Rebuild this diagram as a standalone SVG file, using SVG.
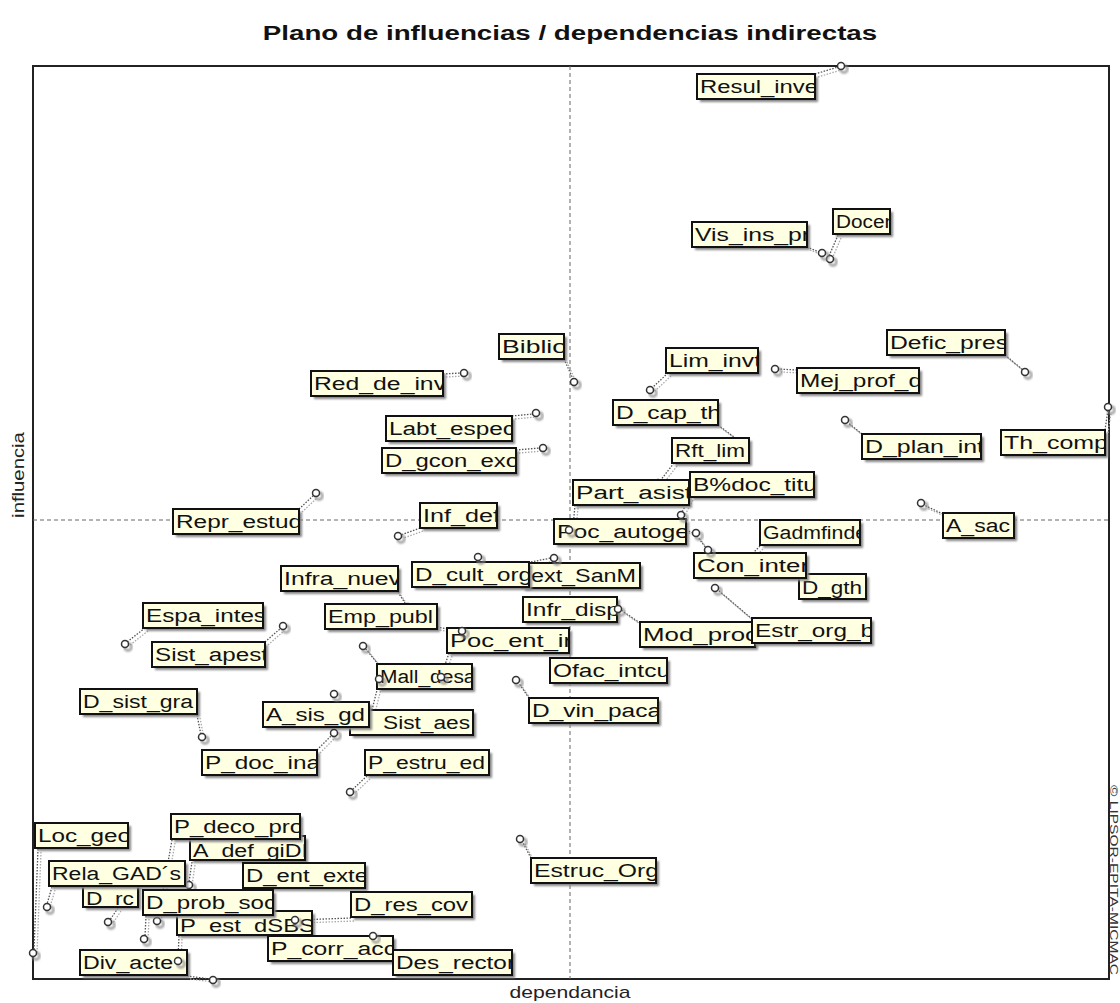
<svg xmlns="http://www.w3.org/2000/svg" width="1120" height="1003" viewBox="0 0 1120 1003">
<defs>
<filter id="soft" x="-20%" y="-40%" width="140%" height="180%"><feGaussianBlur stdDeviation="1.2"/></filter>
<style>
.title{font-family:"Liberation Sans",Arial,sans-serif;font-weight:bold;font-size:21px;fill:#111}
.axis{font-family:"Liberation Sans",Arial,sans-serif;font-size:16px;fill:#222}
.copy{font-family:"Liberation Sans",Arial,sans-serif;font-size:10px;fill:#333}
.frame{fill:none;stroke:#222;stroke-width:2}
.grid{stroke:#666;stroke-width:1;stroke-dasharray:4 3}
.sh{fill:#858585;filter:url(#soft)}
.bx{fill:#ffffe1;stroke:#111;stroke-width:2}
.lb{font-family:"Liberation Sans",Arial,sans-serif;font-size:18px;fill:#111}
.pt{fill:#fff;stroke:#333;stroke-width:1.5}
.ps{fill:none;stroke:#888;stroke-width:2;filter:url(#soft)}
.cn{stroke:#555;stroke-width:1.3;stroke-dasharray:1.5 1.5;fill:none}
.cs{stroke:#aaa;stroke-width:1.3;stroke-dasharray:1.5 1.5;fill:none}
circle.pt,circle.ps{r:3.5}
</style>
</defs>
<rect width="1120" height="1003" fill="#fff"/>

<!-- title and axis captions -->
<text class="title" text-anchor="middle" transform="translate(570,40) scale(1.32,1)">Plano de influencias / dependencias indirectas</text>
<text class="axis" text-anchor="middle" transform="translate(570,998) scale(1.32,1)">dependancia</text>
<text class="axis" text-anchor="middle" transform="translate(24,475) rotate(-90) scale(1.27,1)">influencia</text>
<text class="copy" x="785" y="-1110" transform="rotate(90)" textLength="190" lengthAdjust="spacingAndGlyphs">© LIPSOR-EPITA-MICMAC</text>

<!-- plot frame and axes of the quadrants -->
<rect class="frame" x="33" y="66" width="1076" height="913"/>
<line class="grid" x1="570" y1="66" x2="570" y2="979"/>
<line class="grid" x1="33" y1="520" x2="1109" y2="520"/>

<!-- leader lines from labels to their points -->
<g id="connectors">
<g transform="translate(3,3)" class="cs">
<path d="M815 74L838 67M838 235L829 256M807 247L819 252M564 359L573 379M443 374L461 373M512 416L533 414M516 450L540 448M668 373L652 388M797 370L778 369M1005 355L1023 370M718 425L738 440M862 434L847 422M1105 430L1108 410M674 463L660 481M690 497L682 512M575 505L573 527M943 514L924 505M299 509L314 495M420 528L401 535M686 530L693 533M697 536L706 548M760 546L754 552M752 619L718 590M640 623L621 610M531 562L551 558M398 592L405 603M437 627L459 631M449 653L442 674M378 664L365 648M529 698L518 682M372 710L379 682M317 750L332 735M367 776L352 790M145 628L127 642M265 642L281 628M197 715L201 735M531 858L522 841M38 849L34 950M172 840L158 918M192 862L189 882M52 887L47 904M118 908L110 920M146 916L145 936M179 936L178 958M351 918L298 920M187 976L210 979"/>
</g>
<line class="cn" x1="815" y1="74" x2="838" y2="67"/>
<line class="cn" x1="838" y1="235" x2="829" y2="256"/>
<line class="cn" x1="807" y1="247" x2="819" y2="252"/>
<line class="cn" x1="564" y1="359" x2="573" y2="379"/>
<line class="cn" x1="443" y1="374" x2="461" y2="373"/>
<line class="cn" x1="512" y1="416" x2="533" y2="414"/>
<line class="cn" x1="516" y1="450" x2="540" y2="448"/>
<line class="cn" x1="668" y1="373" x2="652" y2="388"/>
<line class="cn" x1="797" y1="370" x2="778" y2="369"/>
<line class="cn" x1="1005" y1="355" x2="1023" y2="370"/>
<line class="cn" x1="718" y1="425" x2="738" y2="440"/>
<line class="cn" x1="862" y1="434" x2="847" y2="422"/>
<line class="cn" x1="1105" y1="430" x2="1108" y2="410"/>
<line class="cn" x1="674" y1="463" x2="660" y2="481"/>
<line class="cn" x1="690" y1="497" x2="682" y2="512"/>
<line class="cn" x1="575" y1="505" x2="573" y2="527"/>
<line class="cn" x1="943" y1="514" x2="924" y2="505"/>
<line class="cn" x1="299" y1="509" x2="314" y2="495"/>
<line class="cn" x1="420" y1="528" x2="401" y2="535"/>
<line class="cn" x1="686" y1="530" x2="693" y2="533"/>
<line class="cn" x1="697" y1="536" x2="706" y2="548"/>
<line class="cn" x1="760" y1="546" x2="754" y2="552"/>
<line class="cn" x1="752" y1="619" x2="718" y2="590"/>
<line class="cn" x1="640" y1="623" x2="621" y2="610"/>
<line class="cn" x1="531" y1="562" x2="551" y2="558"/>
<line class="cn" x1="398" y1="592" x2="405" y2="603"/>
<line class="cn" x1="437" y1="627" x2="459" y2="631"/>
<line class="cn" x1="449" y1="653" x2="442" y2="674"/>
<line class="cn" x1="378" y1="664" x2="365" y2="648"/>
<line class="cn" x1="529" y1="698" x2="518" y2="682"/>
<line class="cn" x1="372" y1="710" x2="379" y2="682"/>
<line class="cn" x1="317" y1="750" x2="332" y2="735"/>
<line class="cn" x1="367" y1="776" x2="352" y2="790"/>
<line class="cn" x1="145" y1="628" x2="127" y2="642"/>
<line class="cn" x1="265" y1="642" x2="281" y2="628"/>
<line class="cn" x1="197" y1="715" x2="201" y2="735"/>
<line class="cn" x1="531" y1="858" x2="522" y2="841"/>
<line class="cn" x1="38" y1="849" x2="34" y2="950"/>
<line class="cn" x1="172" y1="840" x2="158" y2="918"/>
<line class="cn" x1="192" y1="862" x2="189" y2="882"/>
<line class="cn" x1="52" y1="887" x2="47" y2="904"/>
<line class="cn" x1="118" y1="908" x2="110" y2="920"/>
<line class="cn" x1="146" y1="916" x2="145" y2="936"/>
<line class="cn" x1="179" y1="936" x2="178" y2="958"/>
<line class="cn" x1="351" y1="918" x2="298" y2="920"/>
<line class="cn" x1="187" y1="976" x2="210" y2="979"/>
</g>

<!-- variables: label box + plotted point -->
<g id="n-resul-inve"><rect class="sh" x="700" y="77" width="118" height="25"/><rect class="bx" x="697" y="74" width="118" height="25"/><svg x="697" y="74" width="118" height="25"><text class="lb" x="3" y="19" textLength="118" lengthAdjust="spacingAndGlyphs">Resul_inve</text></svg><circle class="ps" cx="844" cy="69"/><circle class="pt" cx="841" cy="66"/></g>
<g id="n-docen"><rect class="sh" x="836" y="212" width="57" height="25"/><rect class="bx" x="833" y="209" width="57" height="25"/><svg x="833" y="209" width="57" height="25"><text class="lb" x="3" y="19" textLength="60" lengthAdjust="spacingAndGlyphs">Docen</text></svg><circle class="ps" cx="833" cy="262"/><circle class="pt" cx="830" cy="259"/></g>
<g id="n-vis-ins-pr"><rect class="sh" x="695" y="225" width="115" height="25"/><rect class="bx" x="692" y="222" width="115" height="25"/><svg x="692" y="222" width="115" height="25"><text class="lb" x="3" y="19" textLength="115" lengthAdjust="spacingAndGlyphs">Vis_ins_pr</text></svg><circle class="ps" cx="825" cy="256"/><circle class="pt" cx="822" cy="253"/></g>
<g id="n-biblio"><rect class="sh" x="502" y="337" width="65" height="25"/><rect class="bx" x="499" y="334" width="65" height="25"/><svg x="499" y="334" width="65" height="25"><text class="lb" x="3" y="19" textLength="65" lengthAdjust="spacingAndGlyphs">Biblio</text></svg><circle class="ps" cx="577" cy="385"/><circle class="pt" cx="574" cy="382"/></g>
<g id="n-red-de-inv"><rect class="sh" x="314" y="374" width="132" height="25"/><rect class="bx" x="311" y="371" width="132" height="25"/><svg x="311" y="371" width="132" height="25"><text class="lb" x="3" y="19" textLength="132" lengthAdjust="spacingAndGlyphs">Red_de_inv</text></svg><circle class="ps" cx="467" cy="376"/><circle class="pt" cx="464" cy="373"/></g>
<g id="n-labt-espec"><rect class="sh" x="389" y="419" width="126" height="25"/><rect class="bx" x="386" y="416" width="126" height="25"/><svg x="386" y="416" width="126" height="25"><text class="lb" x="3" y="19" textLength="126" lengthAdjust="spacingAndGlyphs">Labt_espec</text></svg><circle class="ps" cx="539" cy="416"/><circle class="pt" cx="536" cy="413"/></g>
<g id="n-d-gcon-exo"><rect class="sh" x="385" y="451" width="134" height="25"/><rect class="bx" x="382" y="448" width="134" height="25"/><svg x="382" y="448" width="134" height="25"><text class="lb" x="3" y="19" textLength="134" lengthAdjust="spacingAndGlyphs">D_gcon_exo</text></svg><circle class="ps" cx="546" cy="451"/><circle class="pt" cx="543" cy="448"/></g>
<g id="n-defic-pres"><rect class="sh" x="890" y="333" width="118" height="25"/><rect class="bx" x="887" y="330" width="118" height="25"/><svg x="887" y="330" width="118" height="25"><text class="lb" x="3" y="19" textLength="118" lengthAdjust="spacingAndGlyphs">Defic_pres</text></svg><circle class="ps" cx="1028" cy="375"/><circle class="pt" cx="1025" cy="372"/></g>
<g id="n-mej-prof-d"><rect class="sh" x="800" y="371" width="122" height="25"/><rect class="bx" x="797" y="368" width="122" height="25"/><svg x="797" y="368" width="122" height="25"><text class="lb" x="3" y="19" textLength="122" lengthAdjust="spacingAndGlyphs">Mej_prof_d</text></svg><circle class="ps" cx="778" cy="372"/><circle class="pt" cx="775" cy="369"/></g>
<g id="n-lim-invt"><rect class="sh" x="669" y="351" width="92" height="25"/><rect class="bx" x="666" y="348" width="92" height="25"/><svg x="666" y="348" width="92" height="25"><text class="lb" x="3" y="19" textLength="92" lengthAdjust="spacingAndGlyphs">Lim_invt</text></svg><circle class="ps" cx="653" cy="393"/><circle class="pt" cx="650" cy="390"/></g>
<g id="n-d-cap-th"><rect class="sh" x="616" y="403" width="105" height="25"/><rect class="bx" x="613" y="400" width="105" height="25"/><svg x="613" y="400" width="105" height="25"><text class="lb" x="3" y="19" textLength="105" lengthAdjust="spacingAndGlyphs">D_cap_th</text></svg><circle class="pt" cx="740" cy="442"/></g>
<g id="n-rft-lim"><rect class="sh" x="675" y="441" width="77" height="25"/><rect class="bx" x="672" y="438" width="77" height="25"/><svg x="672" y="438" width="77" height="25"><text class="lb" x="3" y="19" textLength="70" lengthAdjust="spacingAndGlyphs">Rft_lim</text></svg><circle class="ps" cx="661" cy="486"/><circle class="pt" cx="658" cy="483"/></g>
<g id="n-d-plan-int"><rect class="sh" x="865" y="437" width="119" height="25"/><rect class="bx" x="862" y="434" width="119" height="25"/><svg x="862" y="434" width="119" height="25"><text class="lb" x="3" y="19" textLength="119" lengthAdjust="spacingAndGlyphs">D_plan_int</text></svg><circle class="ps" cx="848" cy="423"/><circle class="pt" cx="845" cy="420"/></g>
<g id="n-th-comp"><rect class="sh" x="1004" y="433" width="104" height="25"/><rect class="bx" x="1001" y="430" width="104" height="25"/><svg x="1001" y="430" width="104" height="25"><text class="lb" x="3" y="19" textLength="104" lengthAdjust="spacingAndGlyphs">Th_comp</text></svg><circle class="ps" cx="1111" cy="410"/><circle class="pt" cx="1108" cy="407"/></g>
<g id="n-poc-autoge"><rect class="sh" x="557" y="522" width="132" height="25"/><rect class="bx" x="554" y="519" width="132" height="25"/><svg x="554" y="519" width="132" height="25"><text class="lb" x="3" y="19" textLength="132" lengthAdjust="spacingAndGlyphs">Poc_autoge</text></svg><circle class="ps" cx="699" cy="536"/><circle class="pt" cx="696" cy="533"/></g>
<g id="n-part-asist"><rect class="sh" x="576" y="483" width="116" height="25"/><rect class="bx" x="573" y="480" width="116" height="25"/><svg x="573" y="480" width="116" height="25"><text class="lb" x="3" y="19" textLength="116" lengthAdjust="spacingAndGlyphs">Part_asist</text></svg><circle class="ps" cx="572" cy="533"/><circle class="pt" cx="569" cy="530"/></g>
<g id="n-b-doc-titu"><rect class="sh" x="693" y="475" width="124" height="25"/><rect class="bx" x="690" y="472" width="124" height="25"/><svg x="690" y="472" width="124" height="25"><text class="lb" x="3" y="19" textLength="124" lengthAdjust="spacingAndGlyphs">B%doc_titu</text></svg><circle class="ps" cx="684" cy="518"/><circle class="pt" cx="681" cy="515"/></g>
<g id="n-a-sac"><rect class="sh" x="946" y="516" width="71" height="25"/><rect class="bx" x="943" y="513" width="71" height="25"/><svg x="943" y="513" width="71" height="25"><text class="lb" x="3" y="19" textLength="64" lengthAdjust="spacingAndGlyphs">A_sac</text></svg><circle class="ps" cx="924" cy="506"/><circle class="pt" cx="921" cy="503"/></g>
<g id="n-repr-estud"><rect class="sh" x="176" y="512" width="126" height="25"/><rect class="bx" x="173" y="509" width="126" height="25"/><svg x="173" y="509" width="126" height="25"><text class="lb" x="3" y="19" textLength="126" lengthAdjust="spacingAndGlyphs">Repr_estud</text></svg><circle class="ps" cx="319" cy="496"/><circle class="pt" cx="316" cy="493"/></g>
<g id="n-inf-def"><rect class="sh" x="423" y="506" width="77" height="25"/><rect class="bx" x="420" y="503" width="77" height="25"/><svg x="420" y="503" width="77" height="25"><text class="lb" x="3" y="19" textLength="77" lengthAdjust="spacingAndGlyphs">Inf_def</text></svg><circle class="ps" cx="401" cy="539"/><circle class="pt" cx="398" cy="536"/></g>
<g id="n-gadmfindef"><rect class="sh" x="763" y="523" width="100" height="25"/><rect class="bx" x="760" y="520" width="100" height="25"/><svg x="760" y="520" width="100" height="25"><text class="lb" x="3" y="19" textLength="110" lengthAdjust="spacingAndGlyphs">Gadmfindef</text></svg></g>
<g id="n-d-gth"><rect class="sh" x="802" y="577" width="67" height="25"/><rect class="bx" x="799" y="574" width="67" height="25"/><svg x="799" y="574" width="67" height="25"><text class="lb" x="3" y="20" textLength="60" lengthAdjust="spacingAndGlyphs">D_gth</text></svg></g>
<g id="n-con-inter"><rect class="sh" x="697" y="556" width="112" height="25"/><rect class="bx" x="694" y="553" width="112" height="25"/><svg x="694" y="553" width="112" height="25"><text class="lb" x="3" y="19" textLength="112" lengthAdjust="spacingAndGlyphs">Con_inter</text></svg><circle class="ps" cx="711" cy="553"/><circle class="pt" cx="708" cy="550"/></g>
<g id="n-infr-disp"><rect class="sh" x="526" y="600" width="94" height="25"/><rect class="bx" x="523" y="597" width="94" height="25"/><svg x="523" y="597" width="94" height="25"><text class="lb" x="3" y="19" textLength="94" lengthAdjust="spacingAndGlyphs">Infr_disp</text></svg></g>
<g id="n-mod-proc"><rect class="sh" x="643" y="625" width="115" height="25"/><rect class="bx" x="640" y="622" width="115" height="25"/><svg x="640" y="622" width="115" height="25"><text class="lb" x="3" y="19" textLength="115" lengthAdjust="spacingAndGlyphs">Mod_proc</text></svg><circle class="ps" cx="621" cy="612"/><circle class="pt" cx="618" cy="609"/></g>
<g id="n-estr-org-b"><rect class="sh" x="755" y="621" width="119" height="25"/><rect class="bx" x="752" y="618" width="119" height="25"/><svg x="752" y="618" width="119" height="25"><text class="lb" x="3" y="19" textLength="119" lengthAdjust="spacingAndGlyphs">Estr_org_b</text></svg><circle class="ps" cx="718" cy="591"/><circle class="pt" cx="715" cy="588"/></g>
<g id="n-ext-sanm"><rect class="sh" x="525" y="566" width="118" height="25"/><rect class="bx" x="522" y="563" width="118" height="25"/><svg x="522" y="563" width="118" height="25"><text class="lb" x="9" y="19" textLength="105" lengthAdjust="spacingAndGlyphs">ext_SanM</text></svg><circle class="ps" cx="557" cy="561"/><circle class="pt" cx="554" cy="558"/></g>
<g id="n-d-cult-org"><rect class="sh" x="415" y="565" width="117" height="25"/><rect class="bx" x="412" y="562" width="117" height="25"/><svg x="412" y="562" width="117" height="25"><text class="lb" x="3" y="19" textLength="117" lengthAdjust="spacingAndGlyphs">D_cult_org</text></svg><circle class="ps" cx="481" cy="560"/><circle class="pt" cx="478" cy="557"/></g>
<g id="n-infra-nuev"><rect class="sh" x="284" y="569" width="117" height="25"/><rect class="bx" x="281" y="566" width="117" height="25"/><svg x="281" y="566" width="117" height="25"><text class="lb" x="3" y="19" textLength="117" lengthAdjust="spacingAndGlyphs">Infra_nuev</text></svg><circle class="pt" cx="408" cy="607"/></g>
<g id="n-mall-desac"><rect class="sh" x="380" y="667" width="95" height="25"/><rect class="bx" x="377" y="664" width="95" height="25"/><svg x="377" y="664" width="95" height="25"><text class="lb" x="3" y="19" textLength="106" lengthAdjust="spacingAndGlyphs">Mall_desac</text></svg><circle class="ps" cx="366" cy="649"/><circle class="pt" cx="363" cy="646"/></g>
<g id="n-poc-ent-ir"><rect class="sh" x="450" y="631" width="122" height="25"/><rect class="bx" x="447" y="628" width="122" height="25"/><svg x="447" y="628" width="122" height="25"><text class="lb" x="3" y="19" textLength="122" lengthAdjust="spacingAndGlyphs">Poc_ent_ir</text></svg><circle class="ps" cx="444" cy="680"/><circle class="pt" cx="441" cy="677"/></g>
<g id="n-emp-publ"><rect class="sh" x="328" y="607" width="112" height="25"/><rect class="bx" x="325" y="604" width="112" height="25"/><svg x="325" y="604" width="112" height="25"><text class="lb" x="3" y="19" textLength="105" lengthAdjust="spacingAndGlyphs">Emp_publ</text></svg><circle class="ps" cx="465" cy="634"/><circle class="pt" cx="462" cy="631"/></g>
<g id="n-ofac-intcu"><rect class="sh" x="553" y="661" width="117" height="25"/><rect class="bx" x="550" y="658" width="117" height="25"/><svg x="550" y="658" width="117" height="25"><text class="lb" x="3" y="19" textLength="117" lengthAdjust="spacingAndGlyphs">Ofac_intcu</text></svg></g>
<g id="n-d-vin-paca"><rect class="sh" x="532" y="701" width="129" height="25"/><rect class="bx" x="529" y="698" width="129" height="25"/><svg x="529" y="698" width="129" height="25"><text class="lb" x="3" y="19" textLength="129" lengthAdjust="spacingAndGlyphs">D_vin_paca</text></svg><circle class="ps" cx="519" cy="683"/><circle class="pt" cx="516" cy="680"/></g>
<g id="n-sist-aes"><rect class="sh" x="353" y="713" width="123" height="25"/><rect class="bx" x="350" y="710" width="123" height="25"/><svg x="350" y="710" width="123" height="25"><text class="lb" x="33" y="19" textLength="87" lengthAdjust="spacingAndGlyphs">Sist_aes</text></svg><circle class="ps" cx="382" cy="682"/><circle class="pt" cx="379" cy="679"/></g>
<g id="n-a-sis-gd"><rect class="sh" x="266" y="705" width="106" height="25"/><rect class="bx" x="263" y="702" width="106" height="25"/><svg x="263" y="702" width="106" height="25"><text class="lb" x="3" y="19" textLength="99" lengthAdjust="spacingAndGlyphs">A_sis_gd</text></svg><circle class="ps" cx="337" cy="697"/><circle class="pt" cx="334" cy="694"/></g>
<g id="n-p-doc-ina"><rect class="sh" x="205" y="753" width="115" height="25"/><rect class="bx" x="202" y="750" width="115" height="25"/><svg x="202" y="750" width="115" height="25"><text class="lb" x="3" y="19" textLength="115" lengthAdjust="spacingAndGlyphs">P_doc_ina</text></svg><circle class="ps" cx="337" cy="736"/><circle class="pt" cx="334" cy="733"/></g>
<g id="n-p-estru-ed"><rect class="sh" x="368" y="753" width="124" height="25"/><rect class="bx" x="365" y="750" width="124" height="25"/><svg x="365" y="750" width="124" height="25"><text class="lb" x="3" y="19" textLength="117" lengthAdjust="spacingAndGlyphs">P_estru_ed</text></svg><circle class="ps" cx="353" cy="795"/><circle class="pt" cx="350" cy="792"/></g>
<g id="n-espa-intes"><rect class="sh" x="146" y="606" width="120" height="25"/><rect class="bx" x="143" y="603" width="120" height="25"/><svg x="143" y="603" width="120" height="25"><text class="lb" x="3" y="19" textLength="120" lengthAdjust="spacingAndGlyphs">Espa_intes</text></svg><circle class="ps" cx="128" cy="647"/><circle class="pt" cx="125" cy="644"/></g>
<g id="n-sist-apest"><rect class="sh" x="155" y="645" width="113" height="25"/><rect class="bx" x="152" y="642" width="113" height="25"/><svg x="152" y="642" width="113" height="25"><text class="lb" x="3" y="19" textLength="113" lengthAdjust="spacingAndGlyphs">Sist_apest</text></svg><circle class="ps" cx="286" cy="629"/><circle class="pt" cx="283" cy="626"/></g>
<g id="n-d-sist-gra"><rect class="sh" x="83" y="692" width="117" height="25"/><rect class="bx" x="80" y="689" width="117" height="25"/><svg x="80" y="689" width="117" height="25"><text class="lb" x="3" y="19" textLength="110" lengthAdjust="spacingAndGlyphs">D_sist_gra</text></svg><circle class="ps" cx="205" cy="740"/><circle class="pt" cx="202" cy="737"/></g>
<g id="n-estruc-org"><rect class="sh" x="534" y="861" width="125" height="25"/><rect class="bx" x="531" y="858" width="125" height="25"/><svg x="531" y="858" width="125" height="25"><text class="lb" x="3" y="19" textLength="125" lengthAdjust="spacingAndGlyphs">Estruc_Org</text></svg><circle class="ps" cx="523" cy="842"/><circle class="pt" cx="520" cy="839"/></g>
<g id="n-loc-geo"><rect class="sh" x="38" y="826" width="93" height="25"/><rect class="bx" x="35" y="823" width="93" height="25"/><svg x="35" y="823" width="93" height="25"><text class="lb" x="3" y="19" textLength="93" lengthAdjust="spacingAndGlyphs">Loc_geo</text></svg><circle class="ps" cx="36" cy="956"/><circle class="pt" cx="33" cy="953"/></g>
<g id="n-a-def-gid"><rect class="sh" x="193" y="839" width="115" height="24"/><rect class="bx" x="190" y="836" width="115" height="24"/><svg x="190" y="836" width="115" height="24"><text class="lb" x="3" y="21" textLength="115" lengthAdjust="spacingAndGlyphs">A_def_giDI</text></svg><circle class="ps" cx="192" cy="888"/><circle class="pt" cx="189" cy="885"/></g>
<g id="n-d-ent-exte"><rect class="sh" x="246" y="866" width="122" height="25"/><rect class="bx" x="243" y="863" width="122" height="25"/><svg x="243" y="863" width="122" height="25"><text class="lb" x="3" y="19" textLength="122" lengthAdjust="spacingAndGlyphs">D_ent_exte</text></svg></g>
<g id="n-p-deco-pro"><rect class="sh" x="174" y="817" width="129" height="25"/><rect class="bx" x="171" y="814" width="129" height="25"/><svg x="171" y="814" width="129" height="25"><text class="lb" x="3" y="19" textLength="129" lengthAdjust="spacingAndGlyphs">P_deco_pro</text></svg><circle class="ps" cx="160" cy="924"/><circle class="pt" cx="157" cy="921"/></g>
<g id="n-d-rc"><rect class="sh" x="86" y="887" width="55" height="23"/><rect class="bx" x="83" y="884" width="55" height="23"/><svg x="83" y="884" width="55" height="23"><text class="lb" x="3" y="21" textLength="48" lengthAdjust="spacingAndGlyphs">D_rc</text></svg><circle class="ps" cx="111" cy="925"/><circle class="pt" cx="108" cy="922"/></g>
<g id="n-rela-gads"><rect class="sh" x="52" y="864" width="136" height="25"/><rect class="bx" x="49" y="861" width="136" height="25"/><svg x="49" y="861" width="136" height="25"><text class="lb" x="3" y="19" textLength="129" lengthAdjust="spacingAndGlyphs">Rela_GAD&#180;s</text></svg><circle class="ps" cx="50" cy="910"/><circle class="pt" cx="47" cy="907"/></g>
<g id="n-div-acte"><rect class="sh" x="83" y="953" width="107" height="25"/><rect class="bx" x="80" y="950" width="107" height="25"/><svg x="80" y="950" width="107" height="25"><text class="lb" x="3" y="19" textLength="90" lengthAdjust="spacingAndGlyphs">Div_acte</text></svg><circle class="ps" cx="216" cy="983"/><circle class="pt" cx="213" cy="980"/></g>
<g id="n-p-est-dsbs"><rect class="sh" x="180" y="914" width="135" height="24"/><rect class="bx" x="177" y="911" width="135" height="24"/><svg x="177" y="911" width="135" height="24"><text class="lb" x="3" y="21" textLength="135" lengthAdjust="spacingAndGlyphs">P_est_dSBS</text></svg><circle class="ps" cx="181" cy="964"/><circle class="pt" cx="178" cy="961"/></g>
<g id="n-d-prob-soc"><rect class="sh" x="146" y="893" width="130" height="25"/><rect class="bx" x="143" y="890" width="130" height="25"/><svg x="143" y="890" width="130" height="25"><text class="lb" x="3" y="19" textLength="130" lengthAdjust="spacingAndGlyphs">D_prob_soc</text></svg><circle class="ps" cx="147" cy="942"/><circle class="pt" cx="144" cy="939"/></g>
<g id="n-d-res-cov"><rect class="sh" x="354" y="895" width="121" height="25"/><rect class="bx" x="351" y="892" width="121" height="25"/><svg x="351" y="892" width="121" height="25"><text class="lb" x="3" y="19" textLength="114" lengthAdjust="spacingAndGlyphs">D_res_cov</text></svg><circle class="ps" cx="298" cy="923"/><circle class="pt" cx="295" cy="920"/></g>
<g id="n-p-corr-acc"><rect class="sh" x="271" y="939" width="125" height="25"/><rect class="bx" x="268" y="936" width="125" height="25"/><svg x="268" y="936" width="125" height="25"><text class="lb" x="3" y="19" textLength="125" lengthAdjust="spacingAndGlyphs">P_corr_acc</text></svg><circle class="ps" cx="376" cy="939"/><circle class="pt" cx="373" cy="936"/></g>
<g id="n-des-rector"><rect class="sh" x="396" y="953" width="119" height="25"/><rect class="bx" x="393" y="950" width="119" height="25"/><svg x="393" y="950" width="119" height="25"><text class="lb" x="3" y="19" textLength="119" lengthAdjust="spacingAndGlyphs">Des_rector</text></svg></g>
</svg>
